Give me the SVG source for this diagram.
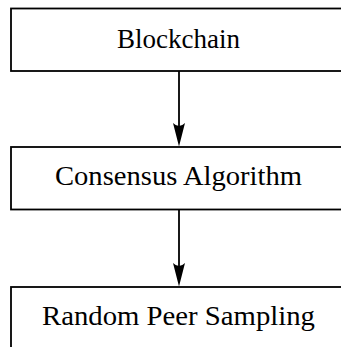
<svg xmlns="http://www.w3.org/2000/svg" width="341" height="347" viewBox="0 0 341 347">
<style>
.box{fill:#fff;stroke:#000;stroke-width:1.8}
.lbl{font-family:"Liberation Serif","DejaVu Serif",serif;font-size:27px;fill:#000;text-anchor:middle}
.edge{stroke:#000;stroke-width:1.8;fill:none}
.head{fill:#000}
</style>
<rect width="341" height="347" fill="#fff"/>
<g id="connectors">
<line class="edge" x1="179" y1="71" x2="179" y2="130"/>
<path class="head" d="M179,146.5 L185,123 Q179,129 173,123 Z"/>
<line class="edge" x1="179" y1="209.5" x2="179" y2="268"/>
<path class="head" d="M179,286.5 L185,263 Q179,269 173,263 Z"/>
</g>
<g id="blockchain">
<rect class="box" x="11" y="8.5" width="338" height="62.5"/>
<text class="lbl" x="178.5" y="48.3" textLength="123" lengthAdjust="spacingAndGlyphs">Blockchain</text>
</g>
<g id="consensus">
<rect class="box" x="11" y="147" width="338" height="62.5"/>
<text class="lbl" x="178.5" y="185" textLength="247" lengthAdjust="spacingAndGlyphs">Consensus Algorithm</text>
</g>
<g id="sampling">
<rect class="box" x="11" y="287" width="338" height="62.5"/>
<text class="lbl" x="178.5" y="325.3" textLength="273" lengthAdjust="spacingAndGlyphs">Random Peer Sampling</text>
</g>
</svg>
